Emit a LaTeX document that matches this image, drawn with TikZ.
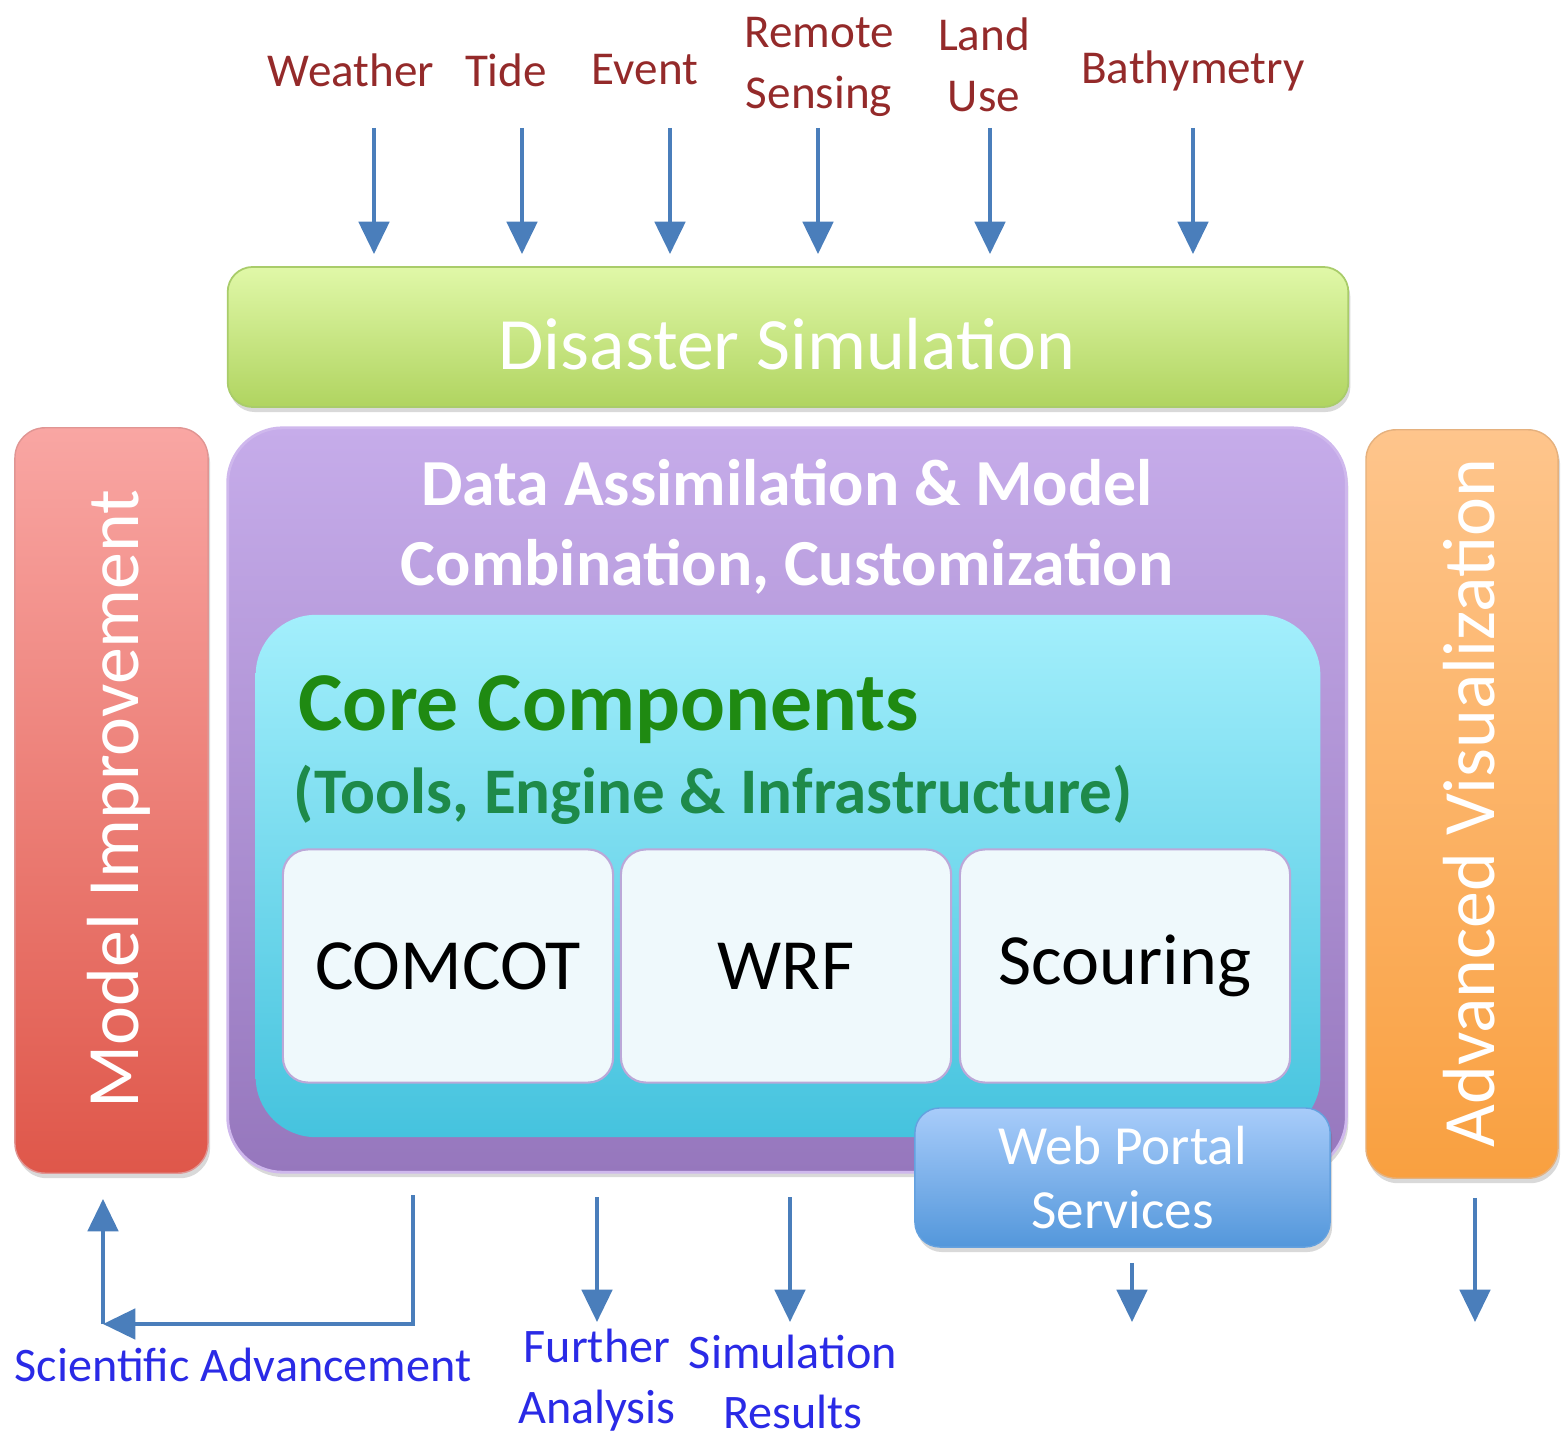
\documentclass[tikz,border=0pt]{standalone}
\usepackage{fontspec}
\setmainfont{Carlito}
\usetikzlibrary{arrows.meta,shadows}
\definecolor{toplbl}{HTML}{942A2A}
\definecolor{botlbl}{HTML}{2A2AE6}
\definecolor{arrowblue}{HTML}{4A7EBB}
\definecolor{simtop}{HTML}{E0F8A8}
\definecolor{simbot}{HTML}{B0D460}
\definecolor{simedge}{HTML}{A9CC6A}
\definecolor{purtop}{HTML}{C6ACEA}
\definecolor{purbot}{HTML}{9677BD}
\definecolor{cyantop}{HTML}{A3EFFC}
\definecolor{cyanbot}{HTML}{45C3DE}
\definecolor{redtop}{HTML}{F9A6A3}
\definecolor{redbot}{HTML}{DF574A}
\definecolor{orgtop}{HTML}{FEC58C}
\definecolor{orgbot}{HTML}{F9A040}
\definecolor{webtop}{HTML}{A8CCFA}
\definecolor{webbot}{HTML}{5397DB}
\definecolor{modfill}{HTML}{EFF9FC}
\definecolor{modedge}{HTML}{BBA8D8}
\definecolor{coregreen}{HTML}{1F8A12}
\definecolor{toolgreen}{HTML}{1E8A4A}
\begin{document}
\begin{tikzpicture}[x=0.01cm,y=-0.01cm,
  inlbl/.style={font=\fontsize{13.4}{17.2}\selectfont, text=toplbl, align=center, inner sep=0pt},
  outlbl/.style={font=\fontsize{13.7}{17.2}\selectfont, text=botlbl, align=center, inner sep=0pt},
  arr/.style={draw=arrowblue, line width=1.2pt, -{Triangle[width=8.6pt,length=9.2pt]}},
  shd/.style={drop shadow={shadow xshift=0.02cm, shadow yshift=-0.05cm, opacity=0.25, fill=black!60}},
  bigbox/.style={shape=rectangle, inner sep=0pt, text=white},
  sidetxt/.style={rotate=90, inner sep=0pt, text=white, font=\fontsize{21}{25}\selectfont},
  modbox/.style={shape=rectangle, rounded corners=0.25cm, fill=modfill, draw=modedge, line width=0.6pt,
     minimum width=3.3cm, minimum height=2.33cm, inner sep=0pt, font=\fontsize{20.5}{24}\selectfont, text=black}
]
\useasboundingbox (0,0) rectangle (1561,1440);

% input labels
\node[inlbl] (weather) at (351,70) {Weather};
\node[inlbl] (tide) at (506,70) {Tide};
\node[inlbl] (event) at (645,70) {Event};
\node[inlbl] (remote) at (819,67) {Remote\\Sensing};
\node[inlbl] (land) at (984,65) {Land\\Use};
\node[inlbl] (bathy) at (1193,71) {Bathymetry};

% disaster simulation
\node[bigbox, shd, rounded corners=0.25cm, top color=simtop, bottom color=simbot, draw=simedge, line width=0.5pt,
  minimum width=11.2cm, minimum height=1.4cm] (sim) at (788,337) {};
\node[inner sep=0pt, text=white, font=\fontsize{21}{25}\selectfont] (simtxt) at (787,344) {Disaster Simulation};

% input arrows
\foreach \nm/\xx in {a1/374,a2/522,a3/670,a4/818,a5/990,a6/1193}{
  \coordinate (\nm) at (\xx,128);
  \draw[arr, shorten >=0.12cm] (\nm) -- (\nm |- sim.north);
}

% model improvement
\node[bigbox, shd, rounded corners=0.3cm, top color=redtop, bottom color=redbot, draw=redtop!90!black, line width=0.4pt,
  minimum width=1.93cm, minimum height=7.45cm] (mi) at (111.5,800.5) {};
\node[sidetxt] (mitxt) at (119,799) {Model Improvement};

% advanced visualization
\node[bigbox, shd, rounded corners=0.3cm, top color=orgtop, bottom color=orgbot, draw=orgtop!90!black, line width=0.4pt,
  minimum width=1.92cm, minimum height=7.48cm] (av) at (1462,804) {};
\node[sidetxt] (avtxt) at (1469,803) {Advanced Visualization};

% data assimilation
\node[bigbox, shd, rounded corners=0.55cm, top color=purtop, bottom color=purbot, draw=purtop!85!white, line width=0.8pt,
  minimum width=11.18cm, minimum height=7.44cm] (da) at (787,800) {};
\node[font=\bfseries\fontsize{18.7}{22.8}\selectfont, text=white, align=center, inner sep=0pt] (datxt) at (787,527)
  {Data Assimilation \& Model\\Combination, Customization};

% core components
\node[bigbox, rounded corners=0.6cm, top color=cyantop, bottom color=cyanbot,
  minimum width=10.64cm, minimum height=5.22cm] (core) at (788,876) {};
\node[anchor=base west, inner sep=0pt, font=\bfseries\fontsize{23.8}{28}\selectfont, text=coregreen] (coretxt) at (298,730) {Core Components};
\node[anchor=base west, inner sep=0pt, font=\bfseries\fontsize{18.5}{22}\selectfont, text=toolgreen] (tooltxt) at (293,813) {(Tools, Engine \& Infrastructure)};

\node[modbox] (comcot) at (448,966) {COMCOT};
\node[modbox] (wrf) at (786,966) {WRF};
\node[modbox] (scour) at (1125,966) {Scouring};

% web portal
\node[bigbox, shd, rounded corners=0.25cm, top color=webtop, bottom color=webbot, draw=webbot!90!white, line width=0.4pt,
  minimum width=4.15cm, minimum height=1.39cm, align=center, font=\fontsize{15.7}{18}\selectfont] (web) at (1122.5,1177.5) {Web Portal\\Services};

% outputs
\node[outlbl] (sci) at (243,1365) {Scientific Advancement};
\node[outlbl] (fur) at (597,1380) {Further\\Analysis};
\node[outlbl] (simres) at (793,1382) {Simulation\\Results};

\coordinate (b1) at (413,1195);
\coordinate (b2) at (103,1324);
\draw[arr] (b1) |- (b2);
\draw[arr, shorten >=0.25cm] (b2) -- (b2 |- mi.south);

\coordinate (c1) at (597,1197);
\coordinate (c2) at (597,1322);
\draw[arr] (c1) -- (c2);
\coordinate (d1) at (790,1197);
\coordinate (d2) at (790,1322);
\draw[arr] (d1) -- (d2);
\coordinate (e2) at (1132,1322);
\draw[arr, shorten <=0.15cm] (web.south -| e2) -- (e2);
\coordinate (f2) at (1475,1322);
\draw[arr, shorten <=0.19cm] (av.south -| f2) -- (f2);
\end{tikzpicture}
\end{document}
